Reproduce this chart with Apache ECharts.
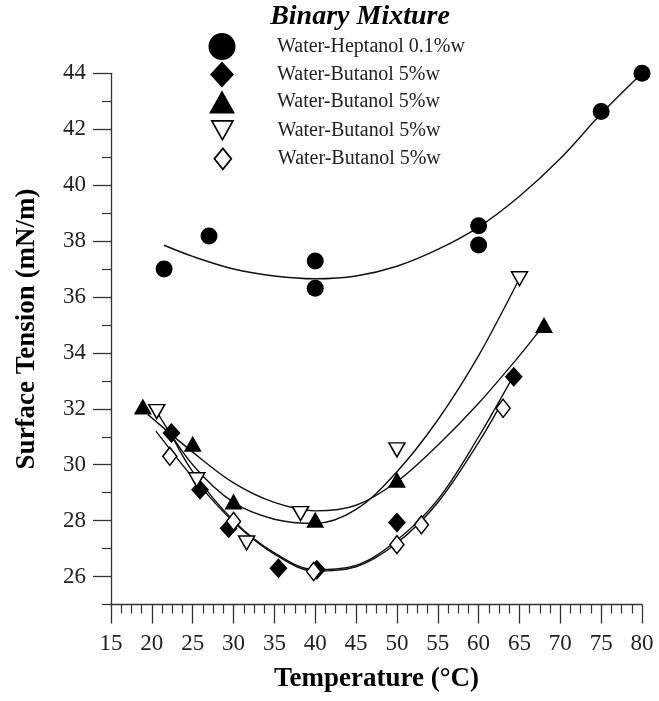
<!DOCTYPE html>
<html>
<head>
<meta charset="utf-8">
<script src="https://cdn.jsdelivr.net/npm/echarts@6/dist/echarts.min.js"></script>
<style>html,body{margin:0;padding:0;background:#fff;}#c{width:659px;height:701px;}</style>
</head>
<body>
<div id="c"></div>
<script>
// ---- data ----
const seriesNames = ['Water-Heptanol 0.1%w', 'Water-Butanol 5%w (a)', 'Water-Butanol 5%w (b)', 'Water-Butanol 5%w (c)', 'Water-Butanol 5%w (d)'];
const xTicks = [15,20,25,30,35,40,45,50,55,60,65,70,75,80];
const yMajorTicks = [26,28,30,32,34,36,38,40,42,44];
const yMinorTicks = [25,27,29,31,33,35,37,39,41,43];

// Water-Heptanol 0.1%w (filled circles)
const hepT = [21.5, 27.0, 40.0, 40.0, 60.0, 60.0, 75.0, 80.0];
const hepS = [37.0, 38.18, 37.29, 36.31, 38.55, 37.86, 42.63, 44.0];
// Water-Butanol (filled diamonds)
const fdT = [22.4, 25.9, 29.4, 35.5, 40.2, 50.0, 64.3];
const fdS = [31.13, 29.1, 27.73, 26.3, 26.24, 27.93, 33.15];
// Water-Butanol (filled triangles)
const ftT = [18.9, 25.0, 30.0, 40.0, 50.0, 68.0];
const ftS = [32.08, 30.75, 28.68, 28.03, 29.46, 35.0];
// Water-Butanol (open down triangles)
const otT = [20.6, 25.5, 31.6, 38.2, 50.0, 65.0];
const otS = [31.9, 29.46, 27.2, 28.25, 30.53, 36.65];
// Water-Butanol (open diamonds)
const odT = [22.2, 30.0, 39.8, 50.0, 53.0, 63.0];
const odS = [30.3, 27.97, 26.18, 27.14, 27.85, 32.02];

// fitted trend curves
const hepFitT = [21.5, 25, 30, 35, 40, 45, 50, 55, 60, 65, 70, 75, 80];
const hepFitS = [37.85, 37.45, 37.0, 36.75, 36.65, 36.75, 37.1, 37.7, 38.5, 39.6, 40.95, 42.55, 44.0];
const ftFitT = [19.5, 25, 30, 35, 40, 45, 50, 55, 60, 65, 68];
const ftFitS = [31.8, 30.45, 29.35, 28.65, 28.35, 28.55, 29.4, 30.7, 32.2, 33.9, 35.0];
const otFitT = [20.6, 25, 30, 35, 40, 45, 50, 55, 60, 65];
const otFitS = [31.9, 30.0, 28.65, 28.05, 27.9, 28.4, 29.75, 31.6, 33.9, 36.65];
const fdFitT = [22, 25, 30, 35, 40, 45, 50, 55, 60, 64.5];
const fdFitS = [31.3, 29.75, 28.0, 26.85, 26.25, 26.4, 27.3, 28.75, 31.0, 33.3];
const odFitT = [20.5, 25, 30, 35, 40, 45, 50, 55, 60, 63];
const odFitS = [31.2, 29.55, 27.95, 26.8, 26.2, 26.35, 27.2, 28.65, 30.8, 32.3];

const zip = (a, b) => a.map((v, i) => [v, b[i]]);
const FONT = '"Liberation Serif", "Times New Roman", serif';
const INK = '#000';
const DOWN_TRI = 'path://M0,0L20,0L10,18Z';

const markers = [
  {T: hepT, S: hepS, symbol: 'circle', size: 17, fill: INK, leg: [27, 27]},
  {T: fdT, S: fdS, symbol: 'diamond', size: [18, 20], fill: INK, leg: [24, 26]},
  {T: ftT, S: ftS, symbol: 'triangle', size: [18, 16], fill: INK, leg: [26, 23]},
  {T: otT, S: otS, symbol: DOWN_TRI, size: [16, 14], fill: '#fff', leg: [22, 19]},
  {T: odT, S: odS, symbol: 'diamond', size: [14, 18], fill: '#fff', leg: [17, 21]}
];
const fits = [[hepFitT, hepFitS], [fdFitT, fdFitS], [ftFitT, ftFitS], [otFitT, otFitS], [odFitT, odFitS]];

const series = [];
fits.forEach((f, i) => series.push({
  type: 'line', name: 'fit' + i, data: zip(f[0], f[1]), smooth: 0.35, symbol: 'none',
  silent: true, z: 2, lineStyle: {color: '#111', width: 1.4}
}));
markers.forEach((m, i) => series.push({
  type: 'scatter', name: seriesNames[i], data: zip(m.T, m.S), symbol: m.symbol,
  symbolSize: m.size, z: 5,
  itemStyle: m.fill === '#fff' ? {color: '#fff', borderColor: INK, borderWidth: 1.5, opacity: 1} : {color: INK, opacity: 1}
}));

const rowY = [46.5, 74.5, 102, 130, 158];
const textH = 20;
const legends = markers.map((m, i) => {
  const W = m.leg[0], H = m.leg[1];
  return {
    data: [{name: seriesNames[i], icon: m.symbol,
      itemStyle: m.fill === '#fff' ? {color: '#fff', borderColor: INK, borderWidth: 1.7, opacity: 1} : {color: INK, borderWidth: 0, opacity: 1}}],
    left: 222 - W / 2, top: rowY[i] - Math.max(H, textH) / 2,
    itemWidth: W, itemHeight: H, padding: 0, selectedMode: false,
    formatter: n => n.replace(/ \(.\)$/, ''),
    textStyle: {fontFamily: FONT, fontSize: 20, color: '#222', lineHeight: textH, padding: [0, 0, 0, 50 - W / 2]}
  };
});

const chart = echarts.init(document.getElementById('c'));
chart.setOption({
  animation: false,
  backgroundColor: '#fff',
  title: {text: 'Binary Mixture', left: 360, top: 3, textAlign: 'center', padding: 0,
    textStyle: {fontFamily: FONT, fontSize: 28, fontWeight: 'bold', fontStyle: 'italic', color: INK}},
  legend: legends,
  grid: {left: 111, right: 17, top: 73.3, bottom: 96.5, containLabel: false},
  xAxis: {
    type: 'value', min: 15, max: 80, interval: 5,
    name: 'Temperature (°C)', nameLocation: 'middle', nameGap: 61,
    nameTextStyle: {fontFamily: FONT, fontSize: 27, fontWeight: 'bold', color: INK},
    axisLine: {show: true, lineStyle: {color: '#333', width: 1.3}},
    axisTick: {show: true, inside: false, length: 19, lineStyle: {color: '#333', width: 1.3}},
    minorTick: {show: true, splitNumber: 4, length: 9, lineStyle: {color: '#333', width: 1.2}},
    axisLabel: {fontFamily: FONT, fontSize: 23, color: '#222', margin: 28,
      customValues: xTicks, formatter: v => String(v)},
    splitLine: {show: false}, minorSplitLine: {show: false}
  },
  yAxis: [{
    type: 'value', min: 25, max: 44, position: 'left',
    name: 'Surface Tension (mN/m)', nameLocation: 'middle', nameGap: 70, nameRotate: 90,
    nameTextStyle: {fontFamily: FONT, fontSize: 27, fontWeight: 'bold', color: INK, padding: [0, 0, 0, 20]},
    axisLine: {show: true, lineStyle: {color: '#333', width: 1.3}},
    axisTick: {show: true, inside: false, length: 18, customValues: yMajorTicks, lineStyle: {color: '#333', width: 1.3}},
    axisLabel: {fontFamily: FONT, fontSize: 23, color: '#222', margin: 25, customValues: yMajorTicks},
    splitLine: {show: false}
  }, {
    type: 'value', min: 25, max: 44, position: 'left',
    axisLine: {show: false},
    axisTick: {show: true, inside: false, length: 9, customValues: yMinorTicks, lineStyle: {color: '#333', width: 1.2}},
    axisLabel: {show: false},
    splitLine: {show: false}
  }],
  series: series
});
</script>
</body>
</html>
